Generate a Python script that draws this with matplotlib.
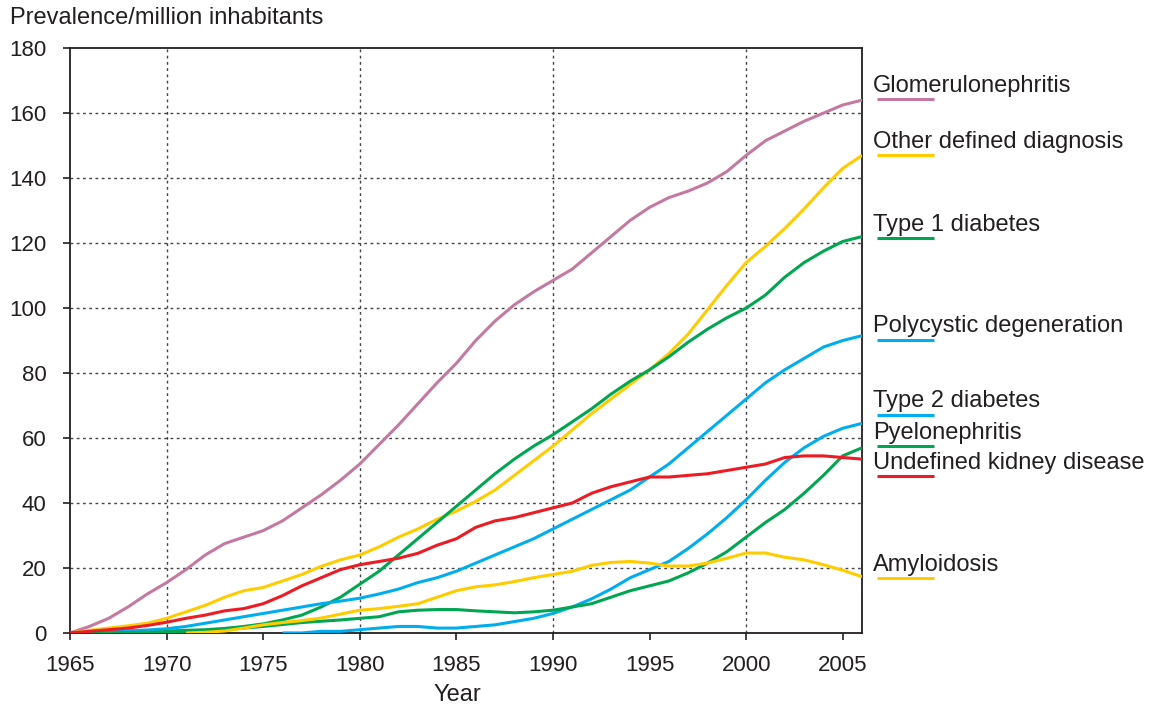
import numpy as np
import matplotlib
matplotlib.use('Agg')
import matplotlib.pyplot as plt

plt.rcParams['font.family'] = ['Liberation Sans', 'DejaVu Sans']

#%% data: prevalence per million inhabitants, by primary renal diagnosis
years = list(range(1965, 2007))
nan = np.nan

glomerulonephritis = [0, 2, 4.5, 8, 12, 15.5, 19.5, 24, 27.5, 29.5, 31.5, 34.5, 38.5, 42.5, 47, 52,
                      58, 64, 70.5, 77, 83, 90, 96, 101, 105, 108.5, 112, 117, 122, 127, 131,
                      134, 136, 138.5, 142, 147, 151.5, 154.5, 157.5, 160, 162.5, 164]
other_defined = [0, 0.8, 1.5, 2.2, 3, 4.5, 6.5, 8.5, 11, 13, 14, 16, 18, 20.5, 22.5, 24,
                 26.5, 29.5, 32, 35, 37.5, 40.5, 44, 48.5, 53, 57.5, 62.5, 67.5, 72, 76.5, 81,
                 86, 92, 99.5, 107, 114, 119, 124.5, 130.5, 137, 143, 147]
type1_diabetes = [0, 0, 0, 0.2, 0.4, 0.6, 0.8, 1, 1.4, 2, 2.8, 4, 5.5, 8, 11, 15,
                  19, 24, 29, 34, 39, 44, 49, 53.5, 57.5, 61, 65, 69, 73.5, 77.5, 81,
                  85, 89.5, 93.5, 97, 100, 104, 109.5, 114, 117.5, 120.5, 122]
polycystic = [0, 0.3, 0.5, 0.7, 0.9, 1.3, 2, 3, 4, 5, 6, 7, 8, 9, 9.8, 10.7,
              12, 13.5, 15.5, 17, 19, 21.5, 24, 26.5, 29, 32, 35, 38, 41, 44, 48,
              52, 57, 62, 67, 72, 77, 81, 84.5, 88, 90, 91.5]
type2_diabetes = [nan] * 11 + [0, 0, 0.5, 0.5, 1,
                               1.5, 2, 2, 1.5, 1.5, 2, 2.5, 3.5, 4.5, 6, 8, 10.5, 13.5, 17, 19.5,
                               22, 26, 30.5, 35.5, 41, 47, 52.5, 57, 60.5, 63, 64.5]
pyelonephritis = [0, 0, 0, 0.1, 0.2, 0.3, 0.5, 0.7, 1, 1.5, 2, 2.6, 3.2, 3.6, 4, 4.5,
                  5, 6.5, 7, 7.2, 7.2, 6.8, 6.5, 6.2, 6.5, 7, 8, 9, 11, 13, 14.5,
                  16, 18.5, 21.5, 25, 29.5, 34, 38, 43, 48.5, 54.5, 57]
undefined_kidney = [0, 0.5, 1, 1.5, 2.3, 3.3, 4.5, 5.5, 6.8, 7.5, 9, 11.5, 14.5, 17, 19.5, 21,
                    22, 23, 24.5, 27, 29, 32.5, 34.5, 35.5, 37, 38.5, 40, 43, 45, 46.5, 48,
                    48, 48.5, 49, 50, 51, 52, 54, 54.5, 54.5, 54, 53.5]
amyloidosis = [nan] * 6 + [0, 0.2, 0.6, 1.5, 2.5, 3.2, 3.8, 4.6, 5.8, 7,
                           7.5, 8.2, 9, 11, 13, 14.2, 14.8, 15.8, 17, 18, 19, 20.8, 21.7, 22, 21.5,
                           20.6, 20.6, 21.5, 23, 24.6, 24.6, 23.3, 22.5, 21, 19.3, 17.3]

labels = ['Glomerulonephritis', 'Other defined diagnosis', 'Type 1 diabetes',
          'Polycystic degeneration', 'Type 2 diabetes', 'Pyelonephritis',
          'Undefined kidney disease', 'Amyloidosis']
series = [glomerulonephritis, other_defined, type1_diabetes, polycystic,
          type2_diabetes, pyelonephritis, undefined_kidney, amyloidosis]
colors = ['#C47AA0', '#FFCC00', '#00A651', '#00AEEF',
          '#00AEEF', '#00A651', '#ED1C24', '#FFCC00']
# height of the coloured underline next to each label
label_y = [164.3, 147.1, 121.5, 90.2, 67.1, 57.5, 48.3, 16.9]

#%% plot
fig = plt.figure(figsize=(11.54, 7.08), dpi=100)
ax = fig.add_axes([0.0607, 0.106, 0.6863, 0.826])

for y in range(20, 180, 20):
    ax.axhline(y, color='#444444', lw=1.0, ls=(0, (2, 2.5)), zorder=1)
for x in range(1970, 2005, 10):
    ax.axvline(x, color='#444444', lw=1.0, ls=(0, (2, 2.5)), zorder=1)

for vals, col in zip(series, colors):
    ax.plot(years, vals, color=col, lw=2.2, zorder=3, solid_capstyle='butt')

for lab, col, ly in zip(labels, colors, label_y):
    ax.plot([2006.8, 2009.75], [ly, ly], color=col, lw=2.2, clip_on=False,
            solid_capstyle='butt')
    ax.text(2006.55, ly + 2.3, lab, fontsize=17, color='#231F20', va='baseline',
            ha='left', clip_on=False)

ax.set_xlim(1965, 2006)
ax.set_ylim(0, 180)
ax.set_xticks(range(1965, 2006, 5))
ax.set_yticks(range(0, 181, 20))
ax.tick_params(axis='x', direction='out', length=5, width=1.2, pad=11, labelsize=16,
               colors='#231F20')
ax.tick_params(axis='y', direction='out', length=5, width=1.2, pad=12, labelsize=16,
               colors='#231F20')
for sp in ax.spines.values():
    sp.set_linewidth(1.3)
    sp.set_color('#231F20')

fig.text(10 / 1154, 1 - 18 / 708, 'Prevalence/million inhabitants', fontsize=17,
         color='#231F20', va='center', ha='left')
fig.text(457 / 1154, 1 - 695 / 708, 'Year', fontsize=17, color='#231F20',
         va='center', ha='center')

plt.savefig('out.png', dpi=100)
